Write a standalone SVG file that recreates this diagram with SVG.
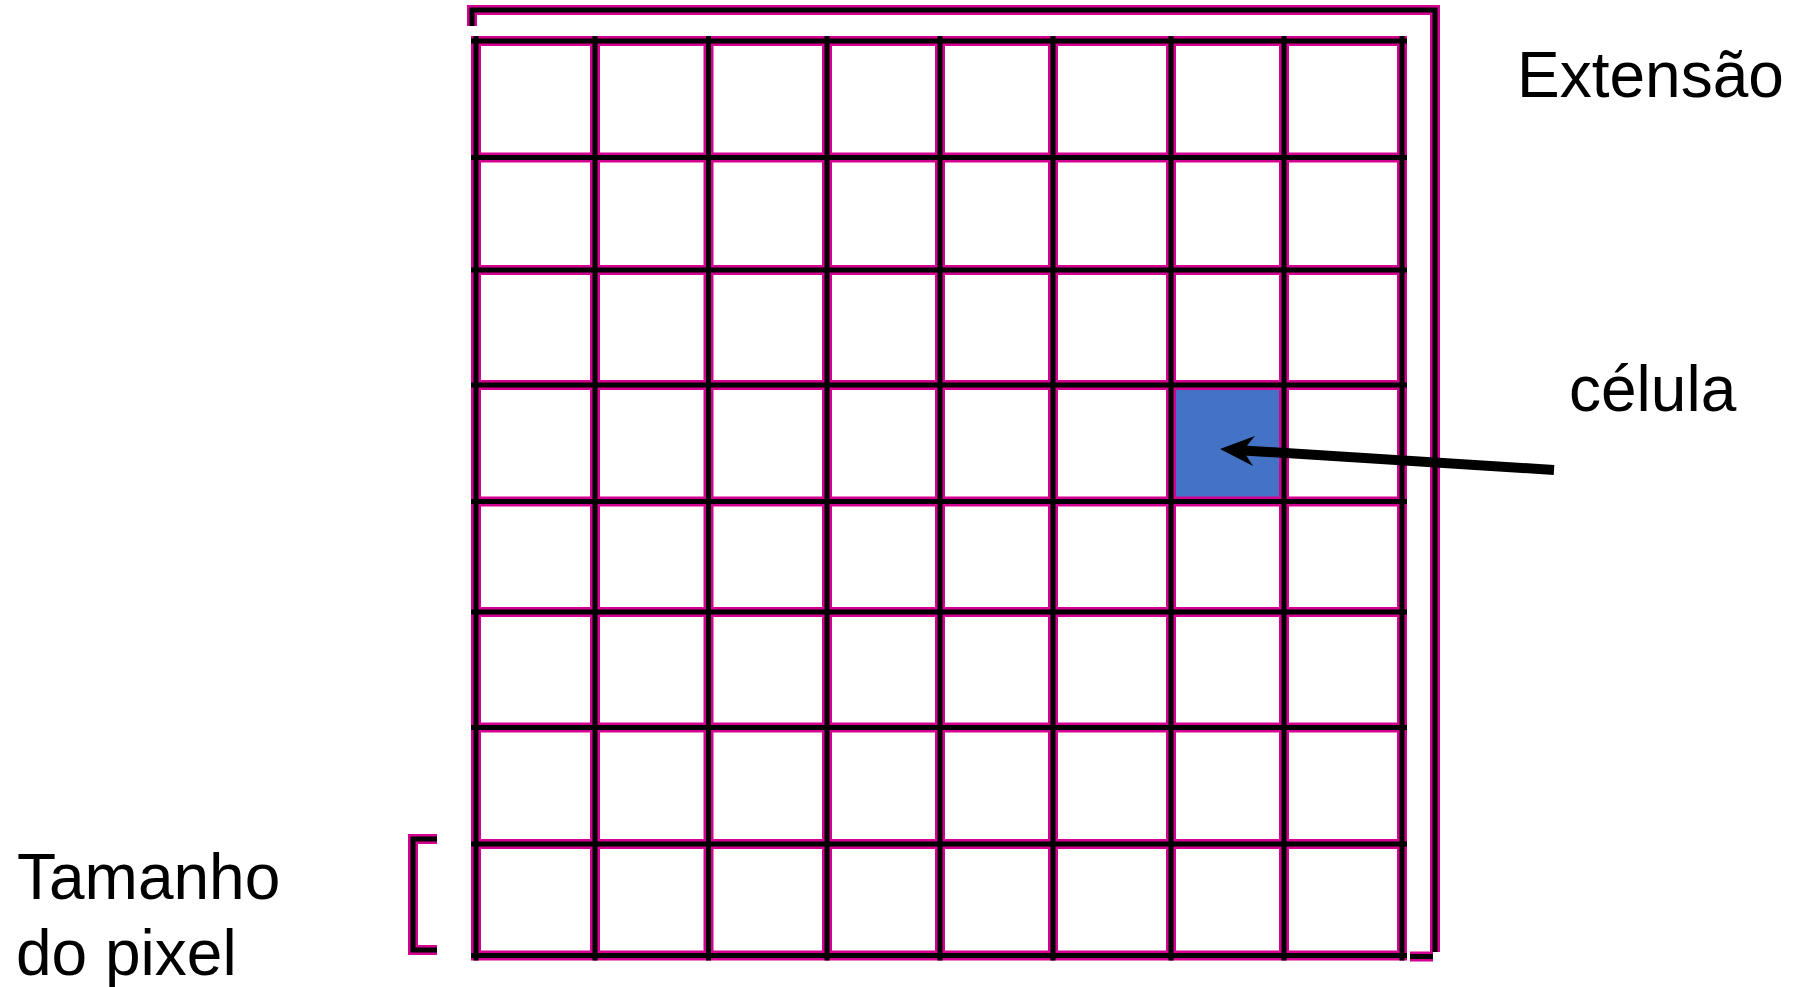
<svg xmlns="http://www.w3.org/2000/svg" width="1801" height="987" viewBox="0 0 1801 987">
  <style>
    .halo { fill: none; stroke: #D4008F; stroke-width: 10; }
    .core { fill: none; stroke: #000000; stroke-width: 5; }
    .lbl { font-family: "Liberation Sans", Arial, sans-serif; font-size: 64px; fill: #000000; }
  </style>
  <defs>
    <path id="gridLines" d="M471 41H1407 M471 157.5H1407 M471 270H1407 M471 385H1407 M471 501.5H1407 M471 612H1407 M471 727.5H1407 M471 844H1407 M471 955.5H1407 M476 36V960.5 M595 36V960.5 M708.5 36V960.5 M827 36V960.5 M940 36V960.5 M1053 36V960.5 M1171 36V960.5 M1284 36V960.5 M1402 36V960.5"/>
    <path id="extentBracket" d="M472 26V10H1435V952 M1410 956.5H1433"/>
    <path id="pixelBracket" d="M437 839H413V950H437"/>
    <marker id="arrowHead" markerUnits="userSpaceOnUse" orient="auto" viewBox="-12 -16 36 32" markerWidth="36" markerHeight="32" refX="0" refY="0">
      <path d="M23 0L-11 -15L0 0L-11 15Z" fill="#000000"/>
    </marker>
  </defs>
  <rect width="1801" height="987" fill="#FFFFFF"/>
  <g id="cell-highlight">
    <rect x="1171" y="385" width="113" height="116.5" fill="#4472C4"/>
  </g>
  <g id="raster-grid">
    <use href="#gridLines" class="halo"/>
    <use href="#gridLines" class="core"/>
  </g>
  <g id="extent-bracket">
    <use href="#extentBracket" class="halo"/>
    <use href="#extentBracket" class="core"/>
  </g>
  <g id="pixel-size-bracket">
    <use href="#pixelBracket" class="halo"/>
    <use href="#pixelBracket" class="core"/>
  </g>
  <g id="connectors">
    <line x1="1554" y1="470" x2="1243" y2="450.4" stroke="#000000" stroke-width="10" marker-end="url(#arrowHead)"/>
  </g>
  <g id="label-extensao">
    <text class="lbl" x="1517" y="97">Extensão</text>
  </g>
  <g id="label-celula">
    <text class="lbl" x="1569" y="411">célula</text>
  </g>
  <g id="label-tamanho">
    <text class="lbl" x="17" y="899">Tamanho</text>
    <text class="lbl" x="16" y="975">do pixel</text>
  </g>
</svg>
